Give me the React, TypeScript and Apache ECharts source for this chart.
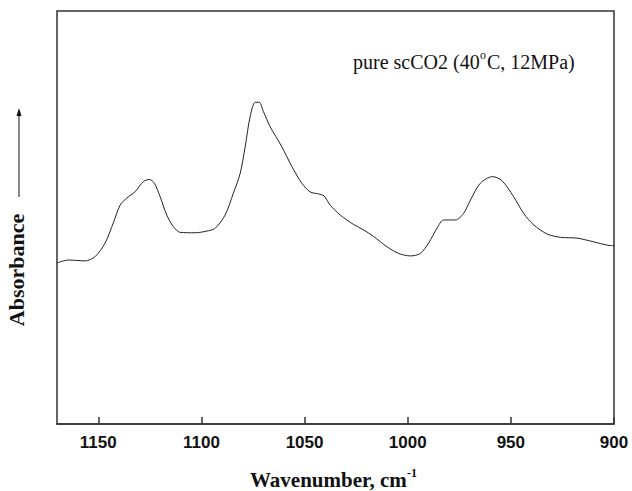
import React, { useEffect, useRef } from "react";
import * as echarts from "echarts";

const wavenumbers: number[] = [
  1170.0, 1164.5, 1156.4, 1151.6, 1146.7, 1142.7, 1139.4, 1136.2, 1132.2, 1128.1,
  1125.2, 1122.8, 1120.0, 1116.8, 1113.6, 1110.3, 1103.1, 1096.6, 1093.3, 1088.5,
  1084.5, 1081.2, 1078.8, 1076.4, 1073.9, 1072.0, 1069.9, 1066.7, 1061.0, 1056.1,
  1051.3, 1047.3, 1043.2, 1040.5, 1037.6, 1032.7, 1026.2, 1021.4, 1016.5, 1010.0,
  1004.4, 998.7, 993.9, 989.9, 985.8, 982.6, 976.9, 972.9, 969.6, 964.8,
  958.8, 954.3, 948.6, 943.8, 938.9, 932.4, 926.0, 917.9, 909.8, 903.3, 900.0,
];

const absorbance: number[] = [
  0.390, 0.397, 0.395, 0.405, 0.438, 0.487, 0.530, 0.547, 0.562, 0.587,
  0.592, 0.583, 0.550, 0.506, 0.478, 0.464, 0.463, 0.468, 0.474, 0.506,
  0.559, 0.607, 0.671, 0.744, 0.779, 0.779, 0.756, 0.720, 0.671, 0.623,
  0.583, 0.562, 0.557, 0.552, 0.530, 0.506, 0.483, 0.470, 0.454, 0.429,
  0.413, 0.407, 0.413, 0.438, 0.474, 0.494, 0.494, 0.510, 0.542, 0.583,
  0.599, 0.589, 0.550, 0.510, 0.482, 0.460, 0.452, 0.450, 0.441, 0.433, 0.432,
];

const xTitle = "Wavenumber, cm";
const xTitleSup = "-1";
const yTitle = "Absorbance";
const noteMain = "pure scCO2 (40";
const noteSup = "o";
const noteTail = "C, 12MPa)";

export default function App() {
  const ref = useRef<HTMLDivElement>(null);
  useEffect(() => {
    if (!ref.current) return;
    const chart = echarts.init(ref.current, undefined, { renderer: "svg" });
    const serif = "'Liberation Serif', 'Times New Roman', serif";
    const sans = "'Liberation Sans', Arial, sans-serif";
    chart.setOption({
      animation: false,
      backgroundColor: "#ffffff",
      grid: {
        left: 57,
        right: 18,
        top: 11,
        bottom: 67,
        show: true,
        borderColor: "#333",
        borderWidth: 1.5,
        containLabel: false,
      },
      xAxis: {
        type: "value",
        inverse: true,
        min: 900,
        max: 1170,
        interval: 50,
        axisLine: { show: true, lineStyle: { color: "#333", width: 1.5 } },
        axisTick: { show: true, inside: true, length: 7, lineStyle: { color: "#333", width: 1.5 } },
        axisLabel: {
          show: true,
          showMaxLabel: false,
          margin: 10,
          fontFamily: sans,
          fontWeight: "bold",
          fontSize: 17,
          color: "#111",
          formatter: (v: number) => String(v),
        },
        splitLine: { show: false },
      },
      yAxis: {
        type: "value",
        min: 0,
        max: 1,
        axisLine: { show: false },
        axisTick: { show: false },
        axisLabel: { show: false },
        splitLine: { show: false },
      },
      series: [
        {
          type: "line",
          data: wavenumbers.map((w, i) => [w, absorbance[i]]),
          showSymbol: false,
          smooth: 0.3,
          lineStyle: { color: "#222", width: 1 },
        },
      ],
      graphic: [
        {
          type: "text",
          left: 250,
          top: 469,
          style: {
            text: xTitle,
            fontFamily: serif,
            fontWeight: "bold",
            fontSize: 21,
            fill: "#111",
          },
        },
        {
          type: "text",
          left: 407,
          top: 467,
          style: {
            text: xTitleSup,
            fontFamily: serif,
            fontWeight: "bold",
            fontSize: 12,
            fill: "#111",
          },
        },
        {
          type: "text",
          x: 16,
          y: 270,
          rotation: Math.PI / 2,
          style: {
            text: yTitle,
            fontFamily: serif,
            fontWeight: "bold",
            fontSize: 22,
            fill: "#111",
            align: "center",
            verticalAlign: "middle",
          },
        },
        {
          type: "line",
          shape: { x1: 19, y1: 197, x2: 19, y2: 114 },
          style: { stroke: "#111", lineWidth: 1 },
        },
        {
          type: "polygon",
          shape: { points: [[19, 108], [16.5, 116], [21.5, 116]] },
          style: { fill: "#111" },
        },
        {
          type: "text",
          left: 353,
          top: 52,
          style: { text: noteMain, fontFamily: serif, fontSize: 20, fill: "#111" },
        },
        {
          type: "text",
          left: 480,
          top: 49,
          style: { text: noteSup, fontFamily: serif, fontSize: 12, fill: "#111" },
        },
        {
          type: "text",
          left: 487,
          top: 52,
          style: { text: noteTail, fontFamily: serif, fontSize: 20, fill: "#111" },
        },
      ],
    });
    return () => chart.dispose();
  }, []);
  return (
    <div
      ref={ref}
      style={{ position: "fixed", left: 0, top: 0, width: 632, height: 491 }}
    />
  );
}
